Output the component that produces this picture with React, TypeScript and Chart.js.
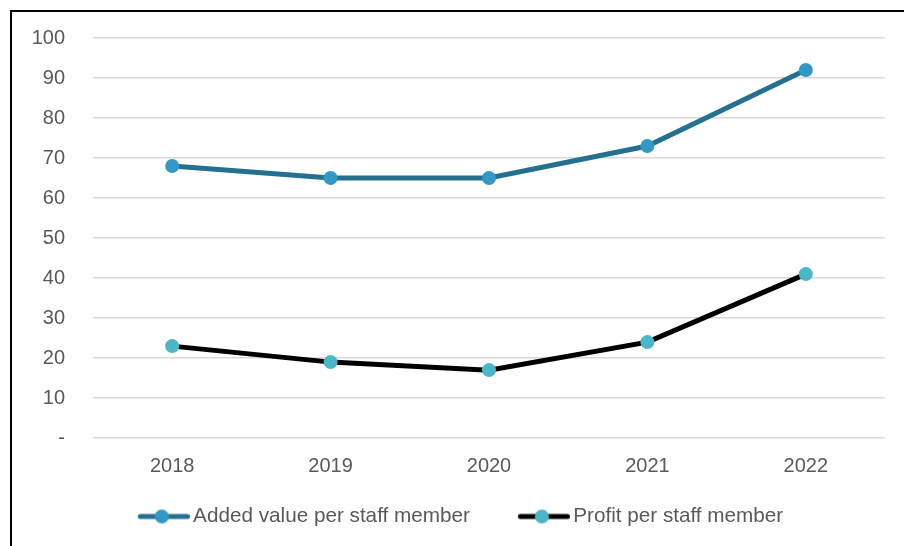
import React, { useEffect, useRef } from "react";
import { Chart, registerables } from "chart.js";

Chart.register(...registerables);

const years = ["2018", "2019", "2020", "2021", "2022"];
const addedValue = [68, 65, 65, 73, 92];
const profit = [23, 19, 17, 24, 41];
const seriesNames = ["Added value per staff member", "Profit per staff member"];

const FONT = "'Liberation Sans', Arial, sans-serif";
const TEXT = "#595959";
const BOX_W = 59;

function legendIcon(lineColor: string, pointColor: string) {
  const c = document.createElement("canvas");
  const w = BOX_W + 14;
  c.width = w;
  c.height = 16;
  const ctx = c.getContext("2d")!;
  ctx.strokeStyle = lineColor;
  ctx.lineWidth = 5;
  ctx.lineCap = "round";
  ctx.beginPath();
  ctx.moveTo(w - 52 + 2.5, 8);
  ctx.lineTo(w - 2.5, 8);
  ctx.stroke();
  ctx.fillStyle = pointColor;
  ctx.beginPath();
  ctx.arc(w - 28, 8, 7, 0, Math.PI * 2);
  ctx.fill();
  return c;
}

const shiftLegend = {
  id: "shiftLegend",
  afterLayout(chart: any) {
    if (chart.legend) {
      chart.legend.left -= 5;
      chart.legend.right -= 5;
    }
  },
};

export default function App() {
  const ref = useRef<HTMLCanvasElement>(null);
  useEffect(() => {
    if (!ref.current) return;
    const icons = [legendIcon("#24708e", "#3399c4"), legendIcon("#000000", "#4db6c4")];
    const chart = new Chart(ref.current, {
      type: "line",
      plugins: [shiftLegend],
      data: {
        labels: years,
        datasets: [
          {
            label: seriesNames[0],
            data: addedValue,
            borderColor: "#24708e",
            backgroundColor: "#3399c4",
            pointBackgroundColor: "#3399c4",
            pointBorderWidth: 0,
            pointRadius: 7,
            borderWidth: 5,
            tension: 0,
          },
          {
            label: seriesNames[1],
            data: profit,
            borderColor: "#000000",
            backgroundColor: "#4db6c4",
            pointBackgroundColor: "#4db6c4",
            pointBorderWidth: 0,
            pointRadius: 7,
            borderWidth: 5,
            tension: 0,
          },
        ],
      },
      options: {
        animation: false,
        responsive: false,
        maintainAspectRatio: false,
        layout: { autoPadding: false, padding: { top: 0, right: 19, left: 20, bottom: 9.15 } },
        plugins: {
          tooltip: { enabled: false },
          legend: {
            position: "bottom",
            labels: {
              usePointStyle: true,
              pointStyleWidth: BOX_W,
              padding: 34,
              color: TEXT,
              font: { family: FONT, size: 20.7 },
              generateLabels: (ch: any) =>
                ch.data.datasets.map((ds: any, i: number) => ({
                  text: ds.label,
                  pointStyle: icons[i],
                  fillStyle: ds.backgroundColor,
                  strokeStyle: ds.borderColor,
                  lineWidth: 0,
                  fontColor: TEXT,
                  datasetIndex: i,
                  hidden: false,
                })),
            },
          },
        },
        scales: {
          x: {
            offset: true,
            grid: { display: false, drawTicks: false },
            border: { display: false },
            ticks: { color: TEXT, font: { family: FONT, size: 20 }, padding: 16 },
            afterFit: (s: any) => {
              s.height = 34;
            },
          },
          y: {
            min: 0,
            max: 100,
            grid: { color: "#d9d9d9", lineWidth: 1.5, drawTicks: false },
            border: { display: false },
            ticks: {
              stepSize: 10,
              color: TEXT,
              padding: 28,
              font: { family: FONT, size: 20 },
              callback: (v: any) => (v === 0 ? "-" : String(v)),
            },
            afterFit: (s: any) => {
              s.width = 61;
              s.paddingTop = 26;
              s.paddingBottom = 0;
            },
          },
        },
      },
    });
    return () => chart.destroy();
  }, []);
  return (
    <div
      style={{
        position: "absolute",
        left: 10,
        top: 10,
        width: 900,
        height: 560,
        borderLeft: "2px solid #000",
        borderTop: "2px solid #000",
        background: "#fff",
      }}
    >
      <canvas ref={ref} width={892} height={534} style={{ display: "block" }} />
    </div>
  );
}
